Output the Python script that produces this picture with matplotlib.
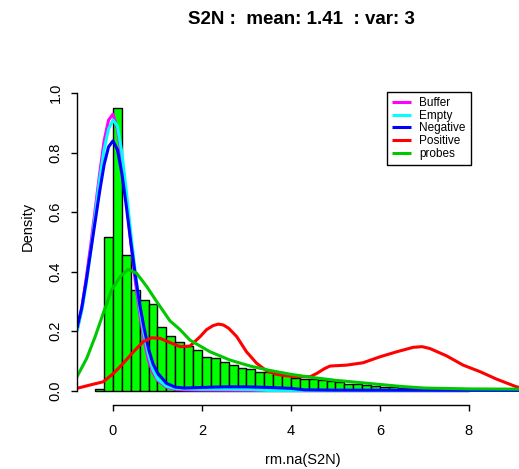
import matplotlib
matplotlib.use('Agg')
import matplotlib.pyplot as plt
import numpy as np

plt.rcParams['font.family'] = ['Liberation Sans', 'DejaVu Sans']

# histogram of S2N (density), bins of 0.2
bin_edges = np.round(np.arange(-0.4, 8.01, 0.2), 2)
bar_heights = [0.005, 0.516, 0.95, 0.456, 0.339, 0.305, 0.292, 0.215, 0.183, 0.165,
               0.152, 0.137, 0.115, 0.109, 0.098, 0.087, 0.078, 0.072, 0.064, 0.064,
               0.058, 0.052, 0.044, 0.040, 0.039, 0.036, 0.034, 0.028, 0.022, 0.021,
               0.019, 0.017, 0.013, 0.011, 0.010, 0.008, 0.007, 0.006, 0.004, 0.003,
               0.002, 0.002]

# density curves per probe type
buf_x = [-0.81, -0.7, -0.6, -0.5, -0.4, -0.3, -0.2, -0.1, 0.0, 0.1, 0.2, 0.3, 0.4, 0.5,
         0.6, 0.7, 0.8, 0.9, 1.0, 1.2, 1.4, 1.6, 2.0, 3.0, 4.0]
buf_y = [0.20, 0.28, 0.38, 0.49, 0.61, 0.73, 0.84, 0.91, 0.93, 0.88, 0.78, 0.64, 0.50, 0.37,
         0.26, 0.17, 0.10, 0.06, 0.035, 0.012, 0.005, 0.003, 0.002, 0.001, 0.001]

emp_x = [-0.81, -0.7, -0.6, -0.5, -0.4, -0.3, -0.2, -0.1, 0.0, 0.1, 0.2, 0.3, 0.4, 0.5,
         0.6, 0.7, 0.8, 0.9, 1.0, 1.2, 1.4, 1.6, 2.0, 2.5, 3.1, 3.5, 9.4]
emp_y = [0.20, 0.27, 0.36, 0.47, 0.59, 0.71, 0.81, 0.88, 0.91, 0.89, 0.80, 0.67, 0.53, 0.40,
         0.28, 0.19, 0.12, 0.07, 0.04, 0.015, 0.008, 0.006, 0.005, 0.005, 0.004, 0.001, 0.001]

neg_x = [-0.81, -0.7, -0.6, -0.5, -0.4, -0.3, -0.2, -0.1, 0.0, 0.1, 0.2, 0.3, 0.4, 0.5,
         0.6, 0.7, 0.8, 0.9, 1.0, 1.2, 1.4, 1.6, 2.0, 2.5, 3.0, 3.5, 4.0, 4.3, 5.0, 9.4]
neg_y = [0.21, 0.28, 0.37, 0.47, 0.57, 0.67, 0.76, 0.82, 0.84, 0.81, 0.73, 0.62, 0.50, 0.39,
         0.29, 0.21, 0.14, 0.09, 0.06, 0.025, 0.012, 0.009, 0.011, 0.013, 0.013, 0.011, 0.008,
         0.003, 0.002, 0.001]

pos_x = [-0.81, -0.52, -0.22, 0.01, 0.23, 0.46, 0.68, 0.87, 1.06, 1.28, 1.51, 1.73, 1.96,
         2.1, 2.25, 2.37, 2.48, 2.6, 2.78, 3.0, 3.23, 3.45, 3.68, 3.9, 4.15, 4.43, 4.58,
         4.75, 4.88, 5.25, 5.62, 6.0, 6.38, 6.75, 6.95, 7.12, 7.5, 7.87, 8.25, 8.62, 9.07, 9.4]
pos_y = [0.008, 0.019, 0.030, 0.058, 0.092, 0.131, 0.165, 0.178, 0.176, 0.162, 0.148, 0.150,
         0.182, 0.205, 0.219, 0.224, 0.221, 0.210, 0.182, 0.131, 0.092, 0.067, 0.055, 0.050,
         0.047, 0.047, 0.058, 0.074, 0.083, 0.086, 0.094, 0.114, 0.131, 0.146, 0.148, 0.142,
         0.117, 0.086, 0.064, 0.039, 0.013, 0.004]

prb_x = [-0.81, -0.59, -0.40, -0.22, -0.03, 0.16, 0.34, 0.53, 0.76, 0.98, 1.28, 1.51, 1.73,
         2.18, 2.63, 3.08, 3.53, 4.0, 4.5, 5.0, 5.5, 6.0, 6.5, 7.0, 8.0, 9.4]
prb_y = [0.047, 0.109, 0.182, 0.260, 0.339, 0.383, 0.408, 0.395, 0.350, 0.300, 0.235, 0.205,
         0.170, 0.131, 0.103, 0.083, 0.068, 0.055, 0.044, 0.035, 0.028, 0.021, 0.014, 0.009,
         0.006, 0.005]

curves = [
    ('Buffer', buf_x, buf_y, '#ff00ff'),
    ('Empty', emp_x, emp_y, '#00ffff'),
    ('Negative', neg_x, neg_y, '#0000ff'),
    ('Positive', pos_x, pos_y, '#ff0000'),
    ('probes', prb_x, prb_y, '#00c800'),
]

W, H = 519, 469
fig = plt.figure(figsize=(W / 100, H / 100), dpi=100)
# plot region in pixels (R style, goes a bit past the right edge)
left_px, right_px, top_px, bottom_px = 77, 529, 50, 404
ax = fig.add_axes([left_px / W, 1 - bottom_px / H, (right_px - left_px) / W,
                   (bottom_px - top_px) / H])

ax.hist(bin_edges[:-1], bins=bin_edges, weights=bar_heights, color='#00ff00',
        edgecolor='black', linewidth=1.0, zorder=1)

for name, xs, ys, col in curves:
    ax.plot(xs, ys, color=col, lw=2.2, label=name, zorder=2, solid_capstyle='butt')

ax.set_xlim(-0.809, 9.35)
ax.set_ylim(-0.0447, 1.1456)

for s in ['top', 'right']:
    ax.spines[s].set_visible(False)
ax.spines['left'].set_bounds(0, 1.0)
ax.spines['bottom'].set_bounds(0, 8)
ax.spines['bottom'].set_position(('outward', 0.8))
ax.spines['left'].set_linewidth(1.0)
ax.spines['bottom'].set_linewidth(1.0)

ax.set_xticks([0, 2, 4, 6, 8])
ax.set_yticks([0.0, 0.2, 0.4, 0.6, 0.8, 1.0])
ax.set_yticklabels(['0.0', '0.2', '0.4', '0.6', '0.8', '1.0'], rotation=90, va='center')
ax.tick_params(axis='both', length=4.5, width=1.0, labelsize=10.5)
ax.tick_params(axis='y', pad=6)
ax.tick_params(axis='x', pad=9)

ax.set_xlabel('rm.na(S2N)', fontsize=10.5, labelpad=11)
fig.text(28 / W, 1 - 226 / H, 'Density', rotation=90, ha='center', va='center',
         fontsize=10.5)

fig.text(301 / W, 1 - 20 / H, 'S2N :  mean: 1.41  : var: 3', ha='center', va='center',
         fontsize=13.5, fontweight='bold')

leg = ax.legend(loc='upper left', bbox_to_anchor=(387 / W, 1 - 92 / H),
                bbox_transform=fig.transFigure, borderaxespad=0, fancybox=False,
                edgecolor='black', framealpha=1, handlelength=1.6,
                handletextpad=0.7, labelspacing=0.05, borderpad=0.45,
                prop={'size': 8.5})
leg.get_frame().set_linewidth(1.0)
for ln in leg.get_lines():
    ln.set_linewidth(2.2)

fig.savefig('out.png', dpi=100)
